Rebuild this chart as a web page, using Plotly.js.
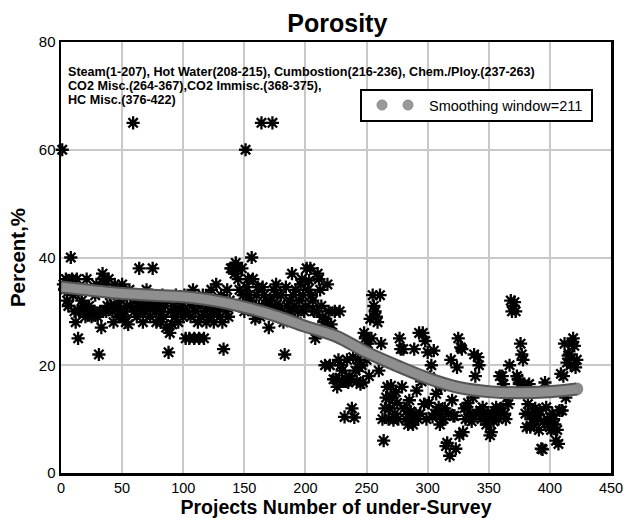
<!DOCTYPE html>
<html>
<head>
<meta charset="utf-8">
<script src="https://cdn.plot.ly/plotly-3.0.1.min.js"></script>
<style>html,body{margin:0;padding:0;background:#fff;}#chart{width:627px;height:518px;}</style>
</head>
<body>
<div id="chart"></div>
<script>
// Porosity (%) per project, project numbers 1..422
const porosity = [
  60,35,34,36,32,31,35,40,36,33,
  30,28,36,25,30,34,32,31,30,29,
  36,30,31,30,29,34,30,33,35,29,
  22,30,27,37,36,35,30,31,36,33,
  31,30,28,35,34,31,29,30,32,35,
  29,30,28,31,27.6,34,31,33,65,30,
  32,29,31,38,30,33,28,31,30,34,
  31,32,29,33,38,31,30,28,32,31,
  30,28,33,29,31,27,32,22.4,26,30,
  27.6,31,29,33,30,28,32,31,30,29,
  33,25,30,32,25,29,31,34,25,30,
  32,28,25,31,29,33,25,30,28,31,
  32,29,34,30,28,31,35,30,32,29,
  33,28,23,31,30,34,29,32,38,38,
  38,37,39,38,36,34,31,38,33,30,
  60,34.5,36,33,32,40,36,30,28.6,33,
  34.5,31,29,65,34.5,33,30,31,32,27,
  32,30,65,34,31,35,33,29,31,33,
  30,28,22,34.5,31,29,32,30,37,33,
  31,34,28,30,32,35,36,33,30,31,
  38,34,35.7,38,33,32,30,25,30,37,
  36,34,31,29,28,20,28,35,30,20,
  27.6,26,17.4,30,17.4,16,21,30,20,19,
  17,10.4,17,21,16.8,18,17.4,12,21.5,10.3,
  19,17,21,19.6,16.5,20,16.8,26,25,21,
  24,18,28.6,25,33,31,30,29,28,19,
  33,24,10,6,12,14,16,10,12,16.2,
  14,9.8,11,15,13,10,25,23,16,23,
  12,10,11.6,9,13.5,11.4,10,9,23,11,
  15.3,10,26,11,17,26,12.8,24.5,10,22.4,
  13,17.8,20,10.4,22.7,11,14.7,11.6,12.2,9,
  16,10,10,12,5,5.6,11,3.2,21,13.5,
  10.6,10.6,4.5,19.6,25,7,23.3,23,7.6,12,
  10,12.2,13,10,11,9.6,14,22,18,11,
  21.5,20,11.6,10,12.2,11,10.4,9,11,10,
  7,7.6,11,9.6,10.4,12.2,11,10,18,12,
  18,16.5,11,10,14,12.8,20,32,30,31,
  31.7,30,18,17.5,16.5,24,22,21,16.5,11,
  8.5,12.8,16.5,8.5,11,10,9,12,11,10,
  8,11.6,4.5,4.4,9.6,16.8,12.2,10,9,8.5,
  8,11,10,9,6,8,5.4,11.6,18.4,11.6,
  18,24,14,20.5,21.8,22,20,24,25,23.6,
  19.6,21
];
const projectNo = porosity.map((_, i) => i + 1);

// Smoothed curve (window = 211)
const smoothX = [1, 25, 50, 75, 100, 125, 150, 175, 200, 225, 250, 275, 300, 325, 350, 375, 400, 422];
const smoothY = [34.5, 33.9, 33.3, 33.0, 32.7, 32.0, 30.8, 29.2, 27.2, 25.4, 22.4, 19.9, 17.6, 15.9, 15.1, 14.9, 15.1, 15.6];

const xTicks = [0, 50, 100, 150, 200, 250, 300, 350, 400, 450];
const yTicks = [0, 20, 40, 60, 80];

const titleText = 'Porosity';
const xTitle = 'Projects Number of under-Survey';
const yTitle = 'Percent,%';
const noteLines = [
  'Steam(1-207), Hot Water(208-215), Cumbostion(216-236), Chem./Ploy.(237-263)',
  'CO2 Misc.(264-367),CO2 Immisc.(368-375),',
  'HC Misc.(376-422)'
];
const legendLabel = 'Smoothing window=211';

const FONT = 'Arial, "Liberation Sans", sans-serif';
const endSizes = smoothX.map((_, i) => (i === 0 || i === smoothX.length - 1) ? 1 : 0);

const traces = [
  {
    x: projectNo, y: porosity, type: 'scatter', mode: 'markers', showlegend: false,
    marker: {symbol: 'asterisk-open', size: 11, color: '#000', line: {color: '#000', width: 2.3}},
    cliponaxis: false, hoverinfo: 'skip'
  },
  {
    x: smoothX, y: smoothY, type: 'scatter', mode: 'lines+markers', showlegend: false,
    line: {color: '#555', width: 13, shape: 'spline', smoothing: 1},
    marker: {size: endSizes.map(s => s ? 13 : 0), color: '#555', line: {width: 0}},
    hoverinfo: 'skip'
  },
  {
    x: smoothX, y: smoothY, type: 'scatter', mode: 'lines+markers', showlegend: false,
    line: {color: '#8f8f8f', width: 9, shape: 'spline', smoothing: 1},
    marker: {size: endSizes.map(s => s ? 9.5 : 0), color: '#8f8f8f', line: {width: 0}},
    hoverinfo: 'skip'
  }
];

// plot area in pixels: left 61, right 611, top 42, bottom 473
const px = v => (v - 61) / 550;
const py = v => (473 - v) / 431;
const noteY = [72, 86, 100];

const layout = {
  width: 627, height: 518,
  margin: {l: 61, r: 16, t: 42, b: 45},
  paper_bgcolor: '#fff', plot_bgcolor: '#fff',
  font: {family: FONT, color: '#000', size: 15},
  title: {text: '<b>' + titleText + '</b>', x: 0.538, xanchor: 'center', y: 0.956, yanchor: 'middle',
          font: {family: FONT, size: 25, color: '#000'}},
  xaxis: {
    range: [0, 450], tickvals: xTicks, ticktext: xTicks.map(String),
    showgrid: true, gridcolor: '#c8c8c8', gridwidth: 2,
    showline: true, mirror: true, linecolor: '#000', linewidth: 2.5,
    zeroline: false, ticks: '', tickfont: {family: FONT, size: 14.5, color: '#000'},
    automargin: false,
    title: {text: '<b>' + xTitle + '</b>', font: {family: FONT, size: 19.5, color: '#000'}, standoff: 5}
  },
  yaxis: {
    range: [0, 80], tickvals: yTicks, ticktext: yTicks.map(String),
    showgrid: true, gridcolor: '#c8c8c8', gridwidth: 2,
    showline: true, mirror: true, linecolor: '#000', linewidth: 2.5,
    zeroline: false, ticks: '', tickfont: {family: FONT, size: 15, color: '#000'},
    title: {text: '<b>' + yTitle + '</b>', font: {family: FONT, size: 20.5, color: '#000'}, standoff: 8}
  },
  shapes: [
    {type: 'rect', xref: 'paper', yref: 'paper', x0: px(361), x1: px(592), y0: py(121), y1: py(90),
     line: {color: '#000', width: 2}, fillcolor: '#fff', layer: 'above'},
    {type: 'circle', xref: 'paper', yref: 'paper', x0: px(377), x1: px(387), y0: py(110), y1: py(100),
     line: {color: '#8a8a8a', width: 1}, fillcolor: '#999', layer: 'above'},
    {type: 'circle', xref: 'paper', yref: 'paper', x0: px(403), x1: px(413), y0: py(110), y1: py(100),
     line: {color: '#8a8a8a', width: 1}, fillcolor: '#999', layer: 'above'}
  ],
  annotations: noteLines.map((t, i) => ({
      xref: 'paper', yref: 'paper', x: px(66), y: py(noteY[i]), xanchor: 'left', yanchor: 'middle', align: 'left',
      showarrow: false, text: '<b>' + t + '</b>', font: {family: FONT, size: 12.6, color: '#000'}
    })).concat([
    {xref: 'paper', yref: 'paper', x: px(427), y: py(105.5), xanchor: 'left', yanchor: 'middle',
     showarrow: false, text: legendLabel, font: {family: FONT, size: 14.5, color: '#000'}}
  ]),
  showlegend: false
};

Plotly.newPlot('chart', traces, layout, {displayModeBar: false, staticPlot: true});
</script>
</body>
</html>
